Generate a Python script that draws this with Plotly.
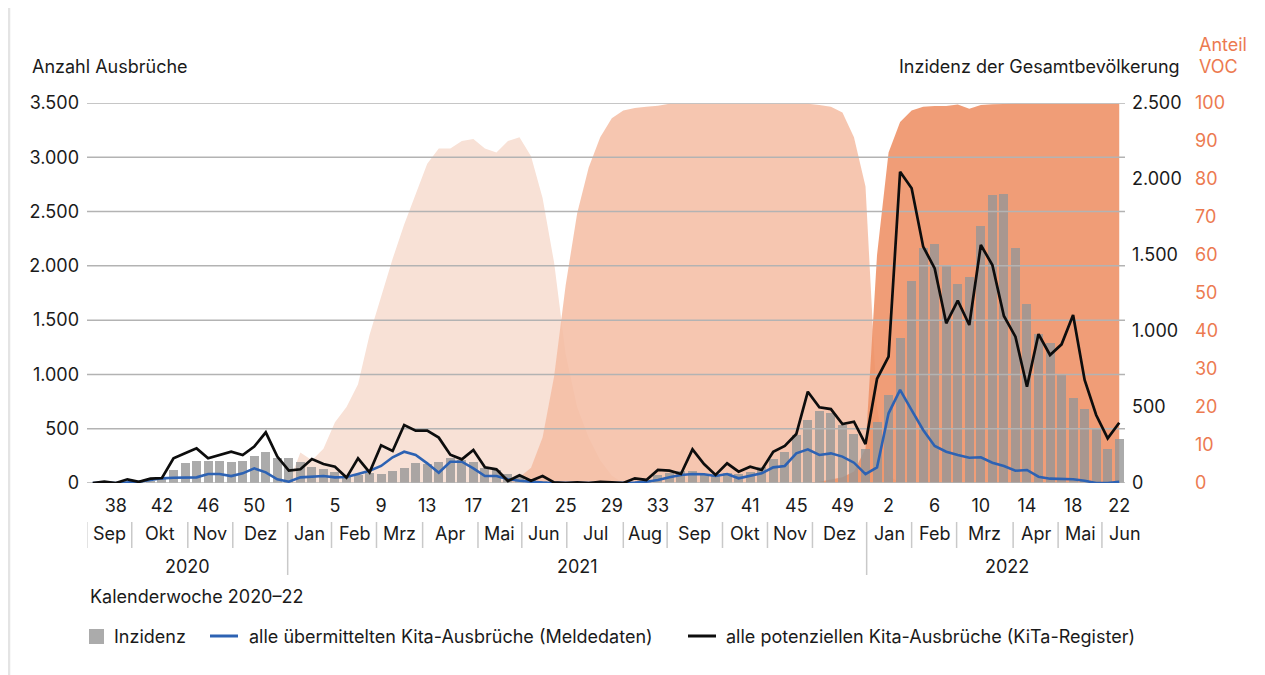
import plotly.graph_objects as go

# ---------------- data (weekly, 2020 KW36 .. 2022 KW22) ----------------
TICK_POS = [2, 6, 10, 14, 17, 21, 25, 29, 33, 37, 41, 45, 49, 53, 57, 61, 65, 69, 73, 77, 81, 85, 89]
TICK_TEXT = ["38", "42", "46", "50", "1", "5", "9", "13", "17", "21", "25", "29", "33", "37", "41",
             "45", "49", "2", "6", "10", "14", "18", "22"]

MONTHS = ["Sep", "Okt", "Nov", "Dez",
          "Jan", "Feb", "Mrz", "Apr", "Mai", "Jun", "Jul", "Aug", "Sep", "Okt", "Nov", "Dez",
          "Jan", "Feb", "Mrz", "Apr", "Mai", "Jun"]
MONTH_BOUNDS = [-0.52, 3.38, 8.24, 12.14, 16.9, 20.7, 24.6, 28.6, 33.4, 37.2, 41.1, 46.0, 49.8,
                54.6, 58.5, 62.4, 67.1, 71.0, 74.9, 79.8, 83.7, 87.5, 91.5]
YEARS = ["2020", "2021", "2022"]
YEAR_BOUNDS = [-0.52, 16.9, 67.1, 91.5]

INZIDENZ = [3, 3, 4, 6, 10, 15, 25, 86, 129, 147, 147, 147, 140, 147, 180, 206, 162, 167, 140, 107,
            90, 75, 45, 53, 64, 59, 79, 101, 129, 125, 138, 162, 151, 140, 96, 86, 59, 37, 20, 10,
            6, 5, 5, 6, 4, 5, 6, 8, 14, 53, 68, 81, 79, 59, 48, 64, 57, 75, 103, 156,
            204, 316, 414, 476, 458, 379, 322, 224, 403, 579, 952, 1331, 1544, 1572, 1428, 1307, 1353, 1691, 1895, 1899,
            1544, 1175, 978, 919, 711, 557, 485, 353, 222, 287]

MELDEDATEN = [0, 5, 0, 5, 12, 28, 43, 49, 52, 52, 83, 83, 64, 89, 135, 98, 34, 12, 52, 58,
              64, 52, 55, 83, 113, 157, 237, 288, 258, 181, 95, 196, 196, 135, 64, 64, 34, 21, 12, 3,
              2, 0, 0, 0, 0, 0, 0, 3, 12, 28, 52, 74, 83, 80, 64, 83, 43, 64, 89, 144,
              157, 273, 310, 258, 273, 243, 187, 82, 144, 642, 857, 672, 488, 341, 288, 258, 233, 237, 187, 157,
              113, 120, 58, 40, 34, 34, 21, 0, 0, 12]

KITA_REGISTER = [0, 12, 0, 34, 10, 40, 46, 227, 273, 319, 227, 258, 288, 258, 335, 467, 243, 114, 126, 221,
                 175, 150, 50, 227, 98, 347, 295, 534, 482, 482, 418, 261, 218, 304, 144, 126, 18, 71, 21, 64,
                 5, 0, 5, 0, 10, 5, 0, 43, 28, 120, 114, 83, 310, 175, 74, 181, 104, 150, 120, 288,
                 341, 451, 841, 697, 681, 543, 565, 359, 960, 1163, 2867, 2714, 2177, 1977, 1471, 1680, 1455, 2192, 2008, 1538,
                 1348, 887, 1372, 1179, 1277, 1547, 949, 626, 411, 555]

VOC_ALPHA = [0] * 17 + [0, 8, 6, 9, 16, 20, 26, 39, 49, 59, 68, 76, 84, 88, 88, 90, 90.5, 88, 87,
                        90, 91, 86, 75, 58, 34, 20, 12, 6, 2, 0] + [0] * 43
VOC_DELTA = [0] * 35 + [0, 0.5, 1.5, 4, 12, 28, 52, 71, 83, 91, 96, 98, 98.7, 99, 99.3,
                        99.8, 99.8, 99.8, 99.8, 99.8, 99.8, 99.8, 99.8, 99.8, 99.8, 99.8, 99.8, 99.8,
                        99.5, 99, 97.5, 91, 78, 20, 2, 0] + [0] * 19
VOC_OMIKRON = [0] * 63 + [0.3, 0.8, 1.5, 3, 9, 60, 87, 95, 98, 99, 99.2, 99.2, 99.6, 98.5, 99.5, 99.7,
                          99.8, 99.8, 99.8, 99.8, 99.8, 99.8, 99.8, 99.8, 99.8, 99.8, 99.8]

GRID_VALUES = [0, 500, 1000, 1500, 2000, 2500, 3000, 3500]

# ---------------- layout helpers (screen coords; page body has an 8px margin) ----------------
OFF = 8
W_FIG, H_FIG = 1265 - OFF, 675 - OFF
PLOT_L, PLOT_R, PLOT_T, PLOT_B = 87, 1125, 103, 483      # plot area in screen pixels
L = PLOT_L - OFF
T = PLOT_T - OFF
B = (H_FIG + OFF) - PLOT_B
R = 20
PW = W_FIG - L - R
PH = H_FIG - T - B


def px(x):
    return (x - PLOT_L) / PW


def py(y):
    return (PLOT_B - y) / PH


FONT = "Inter"
FS = 18
TXT = "#1a1a1a"
ORANGE = "#EC7A50"
N = len(INZIDENZ)
X = list(range(N))

fig = go.Figure()

# VOC areas (main axis y)
for vals, col in [(VOC_ALPHA, "rgba(248,225,214,1)"),
                  (VOC_DELTA, "rgba(244,189,163,0.86)"),
                  (VOC_OMIKRON, "rgba(238,146,104,0.9)")]:
    fig.add_trace(go.Scatter(x=X, y=vals, mode="lines", line=dict(width=0, color=col),
                             fill="tozeroy", fillcolor=col, yaxis="y", hoverinfo="skip",
                             showlegend=False))

# incidence bars (y2)
fig.add_trace(go.Bar(x=X, y=INZIDENZ, yaxis="y2", marker=dict(color="rgba(150,150,150,0.8)", line=dict(width=0)),
                     width=0.78, name="Inzidenz", showlegend=False))

# gridlines for left axis (y3) drawn above the areas
gx, gy = [], []
for v in GRID_VALUES:
    gx += [-0.5, N - 0.5, None]
    gy += [v, v, None]
fig.add_trace(go.Scatter(x=gx, y=gy, mode="lines", line=dict(color="#B3B3B3", width=1.5),
                         yaxis="y3", hoverinfo="skip", showlegend=False))

fig.add_trace(go.Scatter(x=X, y=MELDEDATEN, mode="lines", yaxis="y3",
                         line=dict(color="#2D62B3", width=2.6),
                         name="alle übermittelten Kita-Ausbrüche (Meldedaten)", showlegend=False))
fig.add_trace(go.Scatter(x=X, y=KITA_REGISTER, mode="lines", yaxis="y3",
                         line=dict(color="#0d0d0d", width=2.7),
                         name="alle potenziellen Kita-Ausbrüche (KiTa-Register)", showlegend=False))

annotations = []
shapes = []

# axis titles
annotations.append(dict(text="Anzahl Ausbrüche", x=px(30), y=py(67), xanchor="left", yanchor="middle"))
annotations.append(dict(text="Inzidenz der Gesamtbevölkerung", x=px(1182), y=py(67), xanchor="right",
                        yanchor="middle"))
annotations.append(dict(text="Anteil", x=px(1197), y=py(44), xanchor="left", yanchor="middle",
                        font=dict(color=ORANGE)))
annotations.append(dict(text="VOC", x=px(1197), y=py(67), xanchor="left", yanchor="middle",
                        font=dict(color=ORANGE)))

# month row
for i, m in enumerate(MONTHS):
    c = (MONTH_BOUNDS[i] + MONTH_BOUNDS[i + 1]) / 2
    annotations.append(dict(text=m, x=c, xref="x", y=py(533), yanchor="middle", xanchor="center"))
for b in MONTH_BOUNDS[:-1]:
    long = any(abs(b - yb) < 1e-6 for yb in YEAR_BOUNDS[1:-1])
    shapes.append(dict(type="line", xref="x", yref="paper", x0=b, x1=b, y0=py(522),
                       y1=py(575 if long else 548), line=dict(color="#C9C9C9", width=1.5)))
for i, yr in enumerate(YEARS):
    c = (YEAR_BOUNDS[i] + YEAR_BOUNDS[i + 1]) / 2
    annotations.append(dict(text=yr, x=c, xref="x", y=py(566), yanchor="middle", xanchor="center"))

annotations.append(dict(text="Kalenderwoche 2020–22", x=px(88), y=py(596), xanchor="left", yanchor="middle"))

# legend (drawn manually)
shapes.append(dict(type="rect", xref="paper", yref="paper", x0=px(89), x1=px(104), y0=py(644), y1=py(629),
                   fillcolor="rgba(150,150,150,0.8)", line=dict(width=0)))
annotations.append(dict(text="Inzidenz", x=px(112), y=py(636), xanchor="left", yanchor="middle"))
shapes.append(dict(type="line", xref="paper", yref="paper", x0=px(210), x1=px(238), y0=py(636), y1=py(636),
                   line=dict(color="#2D62B3", width=3)))
annotations.append(dict(text="alle übermittelten Kita-Ausbrüche (Meldedaten)", x=px(247), y=py(636),
                        xanchor="left", yanchor="middle"))
shapes.append(dict(type="line", xref="paper", yref="paper", x0=px(688), x1=px(716), y0=py(636), y1=py(636),
                   line=dict(color="#0d0d0d", width=3)))
annotations.append(dict(text="alle potenziellen Kita-Ausbrüche (KiTa-Register)", x=px(724), y=py(636),
                        xanchor="left", yanchor="middle"))

# card frame
shapes.append(dict(type="line", xref="paper", yref="paper", x0=px(9), x1=px(9), y0=py(OFF), y1=py(675),
                   line=dict(color="#E4E4E4", width=2.5)))

for a in annotations:
    a.setdefault("xref", "paper")
    a.setdefault("yref", "paper")
    a.setdefault("showarrow", False)
    a.setdefault("font", {})
    a["font"] = dict(family=FONT, size=FS, color=a["font"].get("color", TXT))

axis_font = dict(family=FONT, size=FS, color=TXT)

fig.update_layout(
    width=W_FIG, height=H_FIG,
    margin=dict(l=L, r=R, t=T, b=B, pad=0),
    paper_bgcolor="white", plot_bgcolor="rgba(0,0,0,0)",
    separators=",.",
    bargap=0,
    showlegend=False,
    font=dict(family=FONT, size=FS, color=TXT),
    xaxis=dict(domain=[0, px(PLOT_R)], range=[-0.5, N - 0.5], tickmode="array",
               tickvals=TICK_POS, ticktext=TICK_TEXT, showgrid=False, zeroline=False,
               showline=False, ticks="", tickfont=axis_font, ticklabelstandoff=10),
    yaxis=dict(range=[0, 100], tickvals=list(range(0, 101, 10)), side="right", anchor="free",
               position=px(1192), showgrid=False, zeroline=False, showline=False, ticks="",
               tickfont=dict(family=FONT, size=FS, color=ORANGE), ticklabelstandoff=2),
    yaxis2=dict(range=[0, 2500], tickvals=[0, 500, 1000, 1500, 2000, 2500], tickformat=",d",
                overlaying="y", side="right", anchor="x", showgrid=False, zeroline=False,
                showline=False, ticks="", tickfont=axis_font, ticklabelstandoff=6),
    yaxis3=dict(range=[0, 3500], tickvals=GRID_VALUES, tickformat=",d", overlaying="y", side="left",
                anchor="x", showgrid=False, zeroline=False, showline=False, ticks="",
                tickfont=axis_font, ticklabelstandoff=7),
    annotations=annotations,
    shapes=shapes,
)

fig.write_html("out.html")
